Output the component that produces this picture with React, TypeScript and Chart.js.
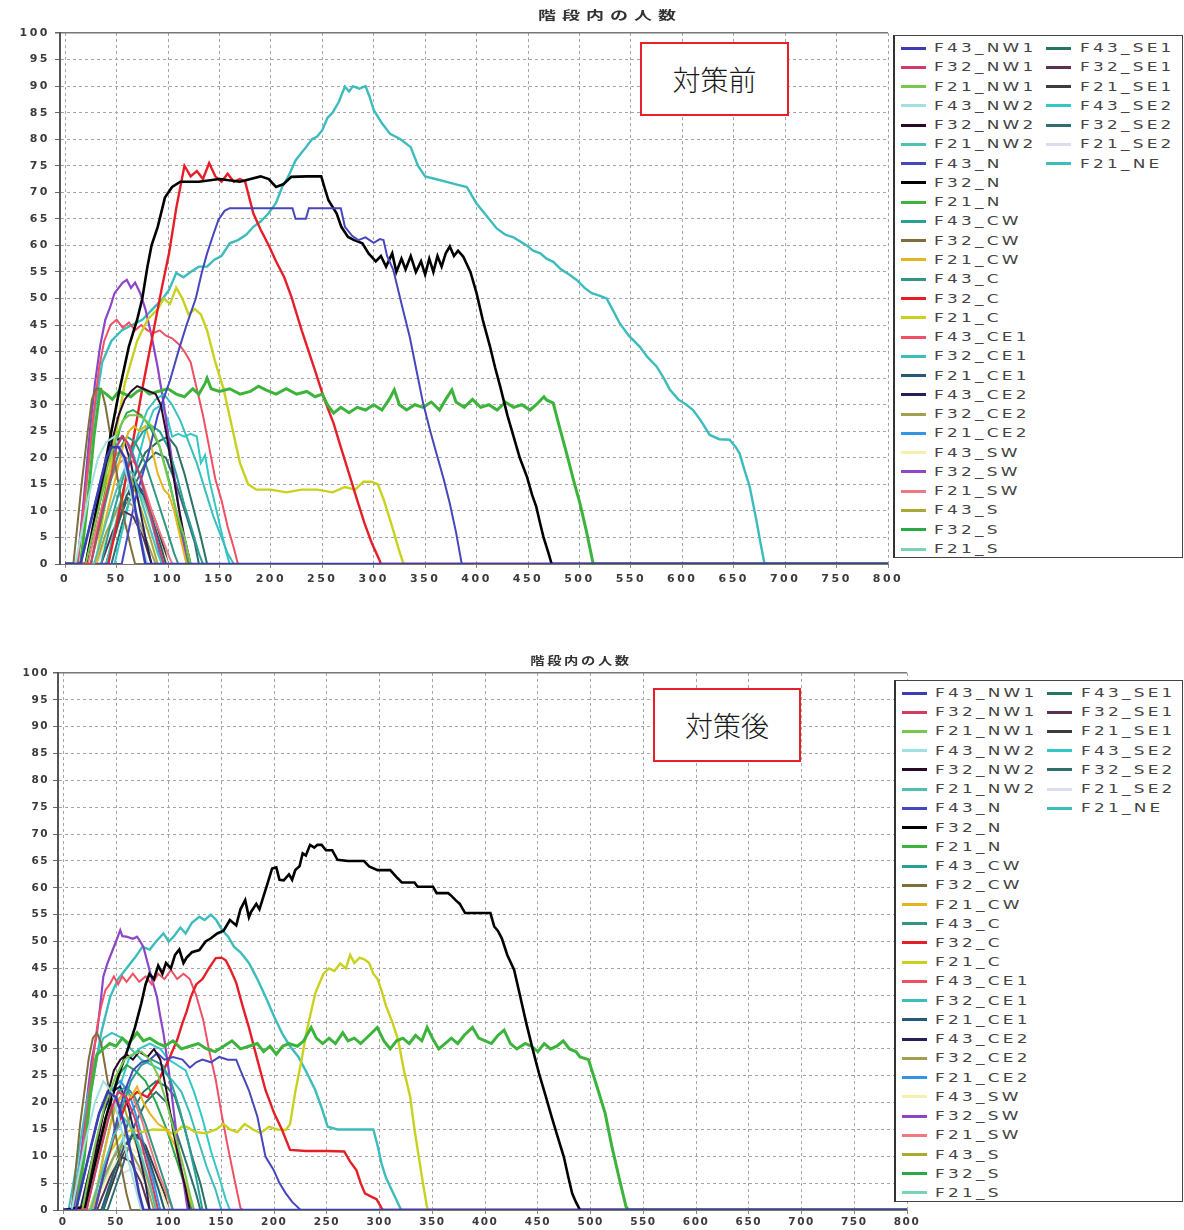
import React, { useEffect, useRef } from "react";
import { Chart, registerables } from "chart.js";

Chart.register(...registerables);

type Pt = [number, number];

// ---- series (legend order: first column 27 items, second column 7 items) ----
const seriesNames = [
  "F43_NW1", "F32_NW1", "F21_NW1", "F43_NW2", "F32_NW2", "F21_NW2",
  "F43_N", "F32_N", "F21_N", "F43_CW", "F32_CW", "F21_CW",
  "F43_C", "F32_C", "F21_C", "F43_CE1", "F32_CE1", "F21_CE1",
  "F43_CE2", "F32_CE2", "F21_CE2", "F43_SW", "F32_SW", "F21_SW",
  "F43_S", "F32_S", "F21_S",
  "F43_SE1", "F32_SE1", "F21_SE1", "F43_SE2", "F32_SE2", "F21_SE2", "F21_NE",
];

const seriesColors = [
  "#3c3cb4", "#d23c64", "#78c850", "#a0e0e0", "#280a28", "#50c0b4",
  "#4646be", "#000000", "#3cb43c", "#28a096", "#7d6e3c", "#e6b41e",
  "#329682", "#e61e28", "#c8d21e", "#f05064", "#3cbebe", "#285a78",
  "#281e5a", "#a0a050", "#3296e6", "#f5f0b0", "#8c46c8", "#f07882",
  "#aaaa32", "#28aa46", "#78d2b4",
  "#287364", "#5a3250", "#3c3c3c", "#32c8c8", "#326e6e", "#dcdcf0", "#3cbcbc",
];

const seriesWeights = [
  2.6, 2, 2, 2, 2, 2,
  2, 2.6, 3, 2, 2, 2,
  2, 2.4, 2.4, 2, 2, 2,
  2, 2, 2, 2, 2.2, 2,
  2, 2, 2,
  2, 2, 2, 2, 2, 2, 2.4,
];

// ---- 対策前 : people in stairs vs time ----
const pre_F43_NW1: Pt[] = [[0,0],[15,0],[30,12],[40,20],[45,22],[52,22],[58,20],[65,14],[72,6],[78,0],[800,0]];
const pre_F32_NW1: Pt[] = [[0,0],[25,0],[36,10],[45,17],[50,22],[55,24],[60,23],[66,20],[74,16],[82,10],[90,4],[96,0],[800,0]];
const pre_F21_NW1: Pt[] = [[0,0],[20,0],[32,10],[42,19],[50,24],[56,27],[62,28],[70,28],[76,27.5],[84,26],[92,22],[100,16],[108,10],[116,5],[122,0],[800,0]];
const pre_F43_NW2: Pt[] = [[0,0],[10,0],[22,12],[32,20],[40,23],[48,24],[55,21],[62,15],[70,8],[76,3],[80,0],[800,0]];
const pre_F32_NW2: Pt[] = [[0,0],[20,0],[32,10],[44,22],[52,28],[58,31],[64,32.5],[70,33.5],[76,33],[82,32.5],[88,32],[93,30],[98,25],[104,18],[110,11],[116,5],[122,0],[800,0]];
const pre_F21_NW2: Pt[] = [[0,0],[28,0],[40,8],[50,14],[58,18],[66,17],[74,12],[82,7],[90,2],[94,0],[800,0]];
const pre_F43_N: Pt[] = [[0,0],[55,0],[68,12],[80,20],[90,28],[102,34.6],[110,40],[118,45],[127,50],[133,55],[138,58.5],[144,62],[149,64.8],[155,66.5],[160,67],[180,67],[200,67],[221,67],[224,65],[234,65],[237,67],[250,67],[268,67],[272,63.5],[279,61.8],[285,61],[292,61.5],[300,60.5],[306,61.2],[309.5,61],[313,58],[319,55.4],[327,49],[335,42.8],[341,37],[348,30.3],[355,25],[361,20.8],[368,16],[374,11.4],[380,6],[385.6,0],[800,0]];
const pre_F32_N: Pt[] = [[0,0],[20,0],[30,10],[40,20],[52,32],[62,41],[70,46],[75,50],[80,56],[84,60],[90,63.5],[97,69],[104,71],[112,72],[130,72],[150,72.5],[170,72],[190,73],[198,72.5],[205,71],[212,71.5],[220,72.9],[235,73],[249,73],[252,71],[256,68.5],[264,66],[268.5,63.5],[275,61.6],[281,61],[289,60.4],[295,58.5],[302,57],[307,58],[312,56],[318,58.5],[322,55],[327,57.5],[331,55.5],[336,58],[341,55],[346,57],[350,54.5],[354,57.5],[358,55],[362,58],[366,56],[370,58.5],[374,59.8],[378,58],[382,59],[387,57.9],[394,55],[400,51],[406,46],[413,41],[418,37],[423,33.4],[430,28],[436,24],[442,20],[449,16.4],[454,13],[458,10.8],[462,7.5],[465,5.1],[470,2],[473,0],[800,0]];
const pre_F21_N: Pt[] = [[0,0],[15,0],[22,12],[28,24],[34,32.8],[40,32],[46,31],[52,32.5],[58,32],[64,31.5],[70,32.5],[76,33],[82,32],[90,32.5],[100,33],[108,32],[116,31.5],[124,33],[130,32],[136,34],[138,35],[142,33],[150,32.5],[160,33],[170,32],[180,32.5],[188,33.5],[195,32.8],[205,32],[215,33],[225,32],[235,32.5],[243,31.5],[250,32],[255,30],[261,28.4],[268,29.5],[276,28.5],[284,29.5],[292,29],[300,30],[308,29],[315,31],[320,32.8],[325,30],[332,29],[340,30],[348,29.5],[356,30.5],[364,29],[370,31],[376,32.8],[380,30.5],[388,29.5],[396,31],[404,29.5],[412,30],[420,29],[428,30.5],[436,29.5],[444,30],[452,29],[458,30],[465.5,31.5],[468,30.9],[474.5,30.3],[481,25.5],[487.6,20.8],[494,16],[500.5,11.4],[507,6],[513.4,0],[800,0]];
const pre_F43_CW: Pt[] = [[0,0],[35,0],[46,9],[56,16],[66,22],[76,25],[84,26],[92,25],[100,22],[108,17],[116,11],[124,6],[130,2],[134,0],[800,0]];
const pre_F32_CW: Pt[] = [[0,0],[8,0],[16,15],[22,25],[26,31],[30,33],[35,33],[39,30],[45,23],[52,15],[58,8],[64,3],[68,0],[800,0]];
const pre_F21_CW: Pt[] = [[0,0],[30,0],[40,9],[50,17],[56,22],[62,25],[67,26],[72,25],[78,26],[84,22],[90,17],[96,14],[101,13],[106,10],[112,5],[118,0],[800,0]];
const pre_F43_C: Pt[] = [[0,0],[25,0],[36,9],[46,17],[54,22],[60,24],[68,23],[78,19],[88,13],[98,7],[106,2],[110,0],[800,0]];
const pre_F32_C: Pt[] = [[0,0],[42,0],[55,12],[65,22],[75,33],[85,43],[94,52],[101,58.5],[108,67],[114,73],[116,75],[122,73],[128,74],[134,72.5],[140,75.5],[146,73],[152,72],[158,73.5],[164,72],[170,72.5],[175,72],[183,66],[190,63],[198,60],[205,57],[213,54],[220,50.3],[230,44],[242,37],[252,31],[261,26.5],[268,22],[276,17],[284,12],[291,7.7],[298,4],[305,1],[307,0],[800,0]];
const pre_F21_C: Pt[] = [[0,0],[30,0],[45,20],[58,34],[70,42],[80,46],[90,48],[96,50],[102,49],[108,52],[114,50],[120,47],[126,48],[132,47],[138,44],[146,38],[154,33],[162,26],[170,19],[178,15],[186,14],[200,14],[215,13.5],[230,14],[245,14],[260,13.5],[272,14.5],[282,14],[290,15.5],[298,15.5],[304,15],[310,12],[318,7],[324,3],[329,0],[800,0]];
const pre_F43_CE1: Pt[] = [[0,0],[12,0],[20,14],[27,27],[33,37],[38,42],[44,45],[50,46],[56,44.5],[62,45.5],[68,44],[74,45],[80,44],[86,43.5],[92,44],[98,43],[104,42.5],[110,41.5],[116,40],[122,38],[128,33],[134,28],[140,22],[146,16],[152,12],[158,7],[164,3],[168,0],[800,0]];
const pre_F32_CE1: Pt[] = [[0,0],[40,0],[52,10],[62,19],[72,25],[80,29],[88,31],[96,32],[104,30],[112,27],[120,23],[128,19],[136,14],[144,9],[152,5],[158,2],[164,0],[800,0]];
const pre_F21_CE1: Pt[] = [[0,0],[40,0],[50,7],[60,13],[68,15],[76,13],[84,9],[92,4],[98,0],[800,0]];
const pre_F43_CE2: Pt[] = [[0,0],[20,0],[30,9],[40,18],[48,23],[56,24],[64,19],[72,11],[78,5],[84,0],[800,0]];
const pre_F32_CE2: Pt[] = [[0,0],[30,0],[40,6],[50,10],[58,12],[66,11],[74,7],[82,3],[88,0],[800,0]];
const pre_F21_CE2: Pt[] = [[0,0],[15,0],[26,9],[36,17],[46,21],[56,24],[64,22],[72,17],[80,11],[88,5],[94,0],[800,0]];
const pre_F43_SW: Pt[] = [[0,0],[30,0],[45,8],[60,13],[75,11],[90,5],[100,0],[800,0]];
const pre_F32_SW: Pt[] = [[0,0],[12,0],[18,12],[24,25],[29,34],[34,41],[39,46],[44,48.5],[48,51],[52,52],[56,53],[60,53.5],[64,52],[68,53],[73,51],[78,48],[84,43],[90,37],[96,30],[102,22],[108,14],[114,6],[118,0],[800,0]];
const pre_F21_SW: Pt[] = [[0,0],[22,0],[32,8],[42,15],[52,19],[60,20],[68,19],[76,15],[86,9],[96,4],[104,0],[800,0]];
const pre_F43_S: Pt[] = [[0,0],[20,0],[30,9],[40,16],[50,21],[58,20],[66,15],[76,9],[84,4],[90,0],[800,0]];
const pre_F32_S: Pt[] = [[0,0],[25,0],[36,11],[46,20],[54,26],[60,28.5],[66,29],[74,28],[82,26],[92,22],[102,15],[110,8],[116,3],[120,0],[800,0]];
const pre_F21_S: Pt[] = [[0,0],[30,0],[42,6],[52,11],[62,15],[72,14],[82,9],[90,4],[96,0],[800,0]];
const pre_F43_SE1: Pt[] = [[0,0],[40,0],[54,9],[66,16],[78,21],[90,23],[100,24],[108,22],[116,17],[124,11],[132,5],[138,0],[800,0]];
const pre_F32_SE1: Pt[] = [[0,0],[35,0],[46,6],[56,10],[66,9],[76,5],[84,0],[800,0]];
const pre_F21_SE1: Pt[] = [[0,0],[40,0],[52,8],[62,13],[70,15],[78,13],[88,8],[96,3],[100,0],[800,0]];
const pre_F43_SE2: Pt[] = [[0,0],[48,0],[60,10],[70,19],[78,25],[86,29],[94,30],[100,27],[104,24],[110,24.5],[116,24],[122,24.5],[128,24],[132,19],[136,20.5],[140,16],[146,11],[152,6],[157,2],[160,0],[800,0]];
const pre_F32_SE2: Pt[] = [[0,0],[45,0],[56,8],[68,15],[78,19],[88,21],[98,20],[108,15],[118,9],[126,4],[130,0],[800,0]];
const pre_F21_SE2: Pt[] = [[0,0],[30,0],[50,6],[70,8],[90,5],[105,0],[800,0]];
const pre_F21_NE: Pt[] = [[0,0],[12,0],[20,14],[28,28],[36,38],[45,42],[55,44],[65,45],[75,46],[85,48],[95,50],[101,51.6],[108,54.8],[115,54],[122,55],[130,56],[138,56],[145,57.3],[152,58],[160,60.4],[168,61],[176,62],[183,63.5],[190,64.5],[197.6,66],[205,68],[211,71],[217,73],[224,76],[230,77.5],[234.6,78.6],[240,80],[245,80.5],[250,81.7],[255,84],[260,85],[266,87],[272,89.9],[276,89],[280,90],[286,89.5],[292,90],[296,88],[300,85.5],[308,83],[316,81],[326,80],[336,78.5],[343,75],[350,73],[360,72.5],[370,72],[380,71.5],[390.5,71],[395,69.5],[400,67.9],[410,65.5],[419.6,63.2],[428,62],[436,61.5],[448.7,60],[455,59],[462,58.5],[468,57.5],[474.6,56.9],[482,55.5],[490,54.5],[497.3,53.5],[505,52],[512,51],[520,50.5],[526.4,50],[532,48],[539.3,45.3],[548,43],[558.7,40.9],[566,39],[575,37.2],[582,35],[588,32.8],[596,31],[604,30],[610.5,29],[618,27],[626.7,24.3],[636,23.5],[646,23.4],[652,22],[655.8,20.8],[660,18],[665.5,14.6],[672,8.3],[676,4],[680,0],[800,0]];

// ---- 対策後 ----
const post_F43_NW1: Pt[] = [[0,0],[12,0],[24,10],[34,18],[42,22],[50,21],[58,16],[66,9],[72,3],[76,0],[800,0]];
const post_F32_NW1: Pt[] = [[0,0],[22,0],[34,10],[44,18],[52,22],[60,21],[68,17],[76,11],[84,5],[90,0],[800,0]];
const post_F21_NW1: Pt[] = [[0,0],[18,0],[30,12],[40,20],[50,25],[58,28],[66,29],[74,29.5],[82,28],[90,25],[98,20],[106,14],[114,8],[120,3],[124,0],[800,0]];
const post_F43_NW2: Pt[] = [[0,0],[8,0],[20,12],[30,20],[38,24],[46,22],[54,16],[62,9],[70,3],[74,0],[800,0]];
const post_F32_NW2: Pt[] = [[0,0],[18,0],[30,10],[40,20],[48,26],[54,28],[60,29],[66,28],[72,29.5],[80,28.5],[86,30],[92,28],[98,22],[104,15],[110,9],[116,4],[120,0],[800,0]];
const post_F21_NW2: Pt[] = [[0,0],[26,0],[38,8],[48,14],[58,17],[66,15],[74,10],[82,5],[88,0],[800,0]];
const post_F43_N: Pt[] = [[0,0],[30,0],[40,8],[50,16],[58,22],[66,26],[74,27.5],[82,28],[89,29.2],[96,28],[104,28.5],[113,28],[120,26.5],[126,27.5],[132,28],[140,27.5],[148,28.5],[156,28],[164,28],[168,26],[176,22.3],[184,17.4],[191.8,9.9],[199.6,7.4],[205,5],[211,3.1],[217,1.5],[223,0.4],[225,0],[800,0]];
const post_F32_N: Pt[] = [[0,0],[20.8,0.6],[28,7],[34.6,12.4],[40,17],[46.4,21],[54,26],[62,30.4],[68,34],[74,38.5],[78,42],[81.7,44],[86,43],[90,45.5],[94,44],[97.4,46],[102,45],[106,47.5],[110,48.5],[114,46],[117,47],[122,48],[129,48.4],[135,50],[140,50.6],[146,51.5],[152,52],[158,54],[164,53],[168,56],[172.5,57.7],[176,54.5],[178,55.5],[183,57],[186,56],[190.8,59],[194,61],[198,63.6],[202,63.8],[205,61.5],[209,61.4],[214,62.5],[217,61.5],[220,63.3],[224,64],[227,66.4],[230,66],[234,68],[238,67.5],[241,68],[245,68],[249,67],[255,67],[260,65.2],[270,65],[285,65],[290,64],[298,63.3],[310,63.3],[316,62],[321,61],[333,61],[336,60.2],[350.6,60.2],[354,59],[365,59],[368,58.5],[372,57.7],[376,57],[381,55.3],[390,55.3],[405,55.3],[408.6,52.8],[412,52],[415.8,50.6],[421,47.5],[427.5,44.7],[433,40],[439,34.8],[445,30],[451,25.5],[457,21.5],[463,17.4],[469,13.5],[474.6,9.9],[479,6],[482.5,3.1],[486,1.5],[490,0],[800,0]];
const post_F21_N: Pt[] = [[0,0],[12,0],[20,10],[26,22],[32,29],[38,30],[44,31],[50,30.5],[56,32],[62,31],[70,33],[76,31.5],[82,32],[90,31],[96,30.5],[104,31.5],[112,30],[120,30.5],[128,31],[136,30],[144,29.5],[152,30.5],[160,31.5],[168,30],[176,30.5],[184,31],[190,29.5],[196,30.5],[202,29],[208,30.5],[214,31],[222,30.5],[228,31.5],[235,34],[240,32],[246,31],[252,32],[258,31],[265,33],[270,31.5],[276,32],[282,31],[290,32.5],[297.7,34],[304,31.5],[310,30],[316,31.5],[322,32],[328,31],[334,32.5],[340,31.5],[345,34],[350,32],[356,30],[362,31],[368,32],[374,31],[380,32.5],[388,34],[394,32],[400,31.5],[406,31],[412,32.5],[418,33.5],[424,31],[430,30],[438,31],[444,30.5],[450,29.5],[456,31],[462,30],[468,30.5],[474,31.5],[480,30],[486,29.5],[490,28.5],[498,28],[506,23],[513.8,18],[520,12],[527,6],[533.6,0.6],[536,0],[800,0]];
const post_F43_CW: Pt[] = [[0,0],[30,0],[42,10],[54,18],[64,24],[74,27],[84,28],[94,27],[102,24],[110,19],[118,13],[126,6],[132,0],[800,0]];
const post_F32_CW: Pt[] = [[0,0],[8,0],[16,16],[24,28],[28,32],[32,33],[36,31],[42,24],[48,16],[54,9],[60,3],[64,0],[800,0]];
const post_F21_CW: Pt[] = [[0,0],[28,0],[38,10],[46,17],[52,20],[58,22],[64,21],[70,23],[76,20],[82,18],[90,16],[98,15],[106,12],[114,6],[120,2],[124,0],[800,0]];
const post_F43_C: Pt[] = [[0,0],[22,0],[34,10],[44,18],[52,22],[60,23],[68,21],[78,16],[88,10],[98,4],[104,0],[800,0]];
const post_F32_C: Pt[] = [[0,0],[30,0],[40,8],[50,15],[60,20],[70,22],[80,21],[90,24],[100,28],[108,31.7],[113,34.8],[117,37],[121,39.7],[126,42],[132,43],[138,45],[144.6,46.9],[150,47],[154,46.5],[158,45],[164,42.3],[170,38],[176,34],[184,28],[191.8,22.3],[200,18],[207.5,14.9],[215,11.2],[230,11],[250,11],[266.4,10.9],[272,9],[278,7.4],[282,5],[286,3.1],[292,2.5],[297,2],[301.7,0.4],[303,0],[800,0]];
const post_F21_C: Pt[] = [[0,0],[25,0],[35,6],[45,11],[55,14],[65,15],[75,14.5],[85,15],[97,14.9],[105,14],[112,15.5],[117,15.5],[125,14.5],[135,14.3],[145,15],[152,16],[158,15],[165,14.5],[172,16],[180,15],[187,14.3],[195,15.5],[203,15],[211,14.9],[215,16],[220,22],[226,28],[231,33.5],[239,40.4],[246.7,44],[252,45],[257,44.5],[262.6,45.9],[268,45],[272,47.5],[276,46],[281,47],[286,46.6],[290,46],[294,44],[298,43],[301.6,41],[306,38],[312,35],[317.5,31.7],[323,26],[329,21],[333,15],[337,10],[341,5],[345,0.4],[347,0],[800,0]];
const post_F43_CE1: Pt[] = [[0,0],[12,0],[20,14],[27,26],[32,34],[36,38],[40,41],[44,42],[48,43.5],[52,42],[56,43.5],[60,42.5],[66,44],[72,42.5],[78,43.5],[84,42],[90,44],[96,43],[102,44.7],[108,43],[114,44],[120,43],[126,40],[132.7,35.4],[138,30],[144.6,24.2],[150,18],[156,11.8],[162,6],[168,0.4],[170,0],[800,0]];
const post_F32_CE1: Pt[] = [[0,0],[5,0],[14,10],[22,20],[30,28],[38,32],[46,33],[56,32],[64,30],[74,28],[84,27],[94,26],[104,24],[112,22],[120,18],[128,13],[136,8],[144,4],[150,0],[800,0]];
const post_F21_CE1: Pt[] = [[0,0],[36,0],[48,7],[58,12],[66,14],[74,13],[82,9],[90,4],[96,0],[800,0]];
const post_F43_CE2: Pt[] = [[0,0],[16,0],[28,10],[38,18],[46,22],[54,23],[62,19],[70,12],[78,5],[82,0],[800,0]];
const post_F32_CE2: Pt[] = [[0,0],[28,0],[38,6],[48,10],[56,12],[64,11],[72,8],[80,4],[86,0],[800,0]];
const post_F21_CE2: Pt[] = [[0,0],[12,0],[24,10],[34,18],[44,22],[54,24],[62,22],[70,17],[78,11],[86,5],[92,0],[800,0]];
const post_F43_SW: Pt[] = [[0,0],[28,0],[44,7],[60,12],[76,10],[90,5],[100,0],[800,0]];
const post_F32_SW: Pt[] = [[0,0],[10,0],[16,8],[22,20],[27,28],[32,33],[35,38],[38,43.5],[42,46],[46,48],[50,50],[54,52.1],[56,51],[60,50.9],[66,50.5],[70,50.9],[73,50],[76,49],[80,46],[84,43],[88.8,39.7],[92,36],[95,32.9],[100,26],[105,18],[110,10],[115,4],[118,0],[800,0]];
const post_F21_SW: Pt[] = [[0,0],[20,0],[30,10],[40,16],[50,20],[58,22],[66,21],[74,17],[82,12],[90,7],[98,3],[104,0],[800,0]];
const post_F43_S: Pt[] = [[0,0],[18,0],[30,9],[40,16],[50,20],[58,19],[66,14],[76,8],[84,3],[88,0],[800,0]];
const post_F32_S: Pt[] = [[0,0],[22,0],[34,12],[44,20],[52,25],[60,27],[68,26],[78,24],[88,20],[98,15],[108,9],[116,4],[122,0],[800,0]];
const post_F21_S: Pt[] = [[0,0],[28,0],[40,6],[50,11],[60,14],[70,13],[80,8],[90,4],[96,0],[800,0]];
const post_F43_SE1: Pt[] = [[0,0],[38,0],[52,10],[64,18],[76,22],[88,24],[98,23],[106,21],[114,16],[122,10],[130,5],[136,0],[800,0]];
const post_F32_SE1: Pt[] = [[0,0],[32,0],[44,6],[54,10],[64,9],[74,5],[82,0],[800,0]];
const post_F21_SE1: Pt[] = [[0,0],[38,0],[52,8],[62,13],[70,14],[78,12],[88,7],[96,3],[100,0],[800,0]];
const post_F43_SE2: Pt[] = [[0,0],[28,0],[40,12],[52,22],[62,28],[72,30],[82,31],[92,30],[100,28],[108,27],[116,26],[124,22],[132,17],[140,11],[148,6],[154,2],[158,0],[800,0]];
const post_F32_SE2: Pt[] = [[0,0],[42,0],[56,8],[68,16],[78,20],[88,22],[98,20],[108,14],[118,8],[126,3],[130,0],[800,0]];
const post_F21_SE2: Pt[] = [[0,0],[28,0],[48,6],[68,8],[88,5],[102,0],[800,0]];
const post_F21_NE: Pt[] = [[0,0],[8,0],[18,12],[28,24],[36,33],[44.5,39.7],[52,43],[60,45],[68,47],[75,49],[82,48.5],[88,50],[95,51.5],[100,50],[105,51],[111,52.6],[116,51.5],[122,53.5],[129,54.6],[134,54],[140,55],[145,54],[150.8,52.1],[156.4,50.9],[162,49],[168,48],[176,46],[184,43],[191.8,39.7],[200,36],[207.5,32.9],[215,30.5],[223,28.5],[231,25.5],[239,22.3],[245,19],[250.7,15.5],[260,15],[270,15],[280,15],[287,15],[294,15],[298,12],[301.7,8.7],[306,6],[312,3.5],[319.4,0.4],[321,0],[800,0]];

const preSeries: Pt[][] = [
  pre_F43_NW1, pre_F32_NW1, pre_F21_NW1, pre_F43_NW2, pre_F32_NW2, pre_F21_NW2,
  pre_F43_N, pre_F32_N, pre_F21_N, pre_F43_CW, pre_F32_CW, pre_F21_CW,
  pre_F43_C, pre_F32_C, pre_F21_C, pre_F43_CE1, pre_F32_CE1, pre_F21_CE1,
  pre_F43_CE2, pre_F32_CE2, pre_F21_CE2, pre_F43_SW, pre_F32_SW, pre_F21_SW,
  pre_F43_S, pre_F32_S, pre_F21_S,
  pre_F43_SE1, pre_F32_SE1, pre_F21_SE1, pre_F43_SE2, pre_F32_SE2, pre_F21_SE2, pre_F21_NE,
];

const postSeries: Pt[][] = [
  post_F43_NW1, post_F32_NW1, post_F21_NW1, post_F43_NW2, post_F32_NW2, post_F21_NW2,
  post_F43_N, post_F32_N, post_F21_N, post_F43_CW, post_F32_CW, post_F21_CW,
  post_F43_C, post_F32_C, post_F21_C, post_F43_CE1, post_F32_CE1, post_F21_CE1,
  post_F43_CE2, post_F32_CE2, post_F21_CE2, post_F43_SW, post_F32_SW, post_F21_SW,
  post_F43_S, post_F32_S, post_F21_S,
  post_F43_SE1, post_F32_SE1, post_F21_SE1, post_F43_SE2, post_F32_SE2, post_F21_SE2, post_F21_NE,
];

const chartTitle = "階段内の人数";
const xRange: Pt = [-5, 800];
const yRange: Pt = [0, 100];
const xStep = 50;
const yStep = 5;

type PanelLayout = {
  top: number;
  width: number;
  height: number;
  padTop: number;
  padRight: number;
  yAxisWidth: number;
  xAxisHeight: number;
  tickSize: number;
  tickSpacing: string;
  yTickPad: number;
  xTickPad: number;
  titleX: number;
  titleY: number;
  titleSize: number;
  titleSpacing: number;
  titleScale: number;
  tag: { left: number; top: number; width: number; height: number };
  legend: { left: number; top: number; width: number; height: number; first: number; pitch: number };
};

const preLayout: PanelLayout = {
  top: 0, width: 920, height: 600, padTop: 33, padRight: 32,
  yAxisWidth: 60, xAxisHeight: 36, tickSize: 11, tickSpacing: "2.5px", yTickPad: 5, xTickPad: 5,
  titleX: 610, titleY: 15, titleSize: 12, titleSpacing: 4, titleScale: 1.5,
  tag: { left: 640, top: 42, width: 149, height: 74 },
  legend: { left: 893, top: 35, width: 290, height: 523, first: 12, pitch: 19.27 },
};

const postLayout: PanelLayout = {
  top: 640, width: 930, height: 590, padTop: 33, padRight: 23,
  yAxisWidth: 58, xAxisHeight: 20, tickSize: 10.5, tickSpacing: "1.5px", yTickPad: 4, xTickPad: 2,
  titleX: 581, titleY: 660, titleSize: 11, titleSpacing: 2, titleScale: 1.3,
  tag: { left: 653, top: 688, width: 148, height: 74 },
  legend: { left: 894, top: 680, width: 289, height: 522, first: 12, pitch: 19.23 },
};

function StairChart({ layout, series }: { layout: PanelLayout; series: Pt[][] }) {
  const ref = useRef<HTMLCanvasElement>(null);
  useEffect(() => {
    const L = layout;
    const gridDash = (ctx: any) => (ctx.tick && ctx.tick.value === 100 ? [] : [3, 3]);
    const tickFont = { family: "'DejaVu Sans', sans-serif", size: L.tickSize, weight: "bold" as const };
    const chart = new Chart(ref.current as HTMLCanvasElement, {
      type: "line",
      data: {
        datasets: seriesNames.map((name, i) => ({
          label: name,
          data: series[i].map(([x, y]) => ({ x, y })),
          borderColor: seriesColors[i],
          backgroundColor: seriesColors[i],
          borderWidth: seriesWeights[i],
          pointRadius: 0,
          tension: 0,
          fill: false,
        })),
      },
      options: {
        responsive: false,
        animation: false,
        events: [],
        layout: { padding: { top: L.padTop, right: L.padRight, left: 0, bottom: 0 } },
        plugins: {
          legend: { display: false },
          title: { display: false },
          tooltip: { enabled: false },
        },
        scales: {
          x: {
            type: "linear",
            min: xRange[0],
            max: xRange[1],
            afterFit: (s: any) => { s.height = L.xAxisHeight; },
            ticks: {
              stepSize: xStep,
              includeBounds: false,
              autoSkip: false,
              maxRotation: 0,
              padding: L.xTickPad,
              color: "#3a3a3a",
              font: tickFont,
            },
            grid: { color: "#a6a6a6", lineWidth: 1, tickLength: 4, tickColor: "#888" },
            border: { display: true, color: "#777", width: 1, dash: [3, 3] },
          },
          y: {
            type: "linear",
            min: yRange[0],
            max: yRange[1],
            afterFit: (s: any) => { s.width = L.yAxisWidth; },
            ticks: {
              stepSize: yStep,
              padding: L.yTickPad,
              color: "#3a3a3a",
              font: tickFont,
            },
            grid: {
              color: (ctx: any) => (ctx.tick && ctx.tick.value === 100 ? "#777" : "#a6a6a6"),
              lineWidth: (ctx: any) => (ctx.tick && ctx.tick.value === 100 ? 1.5 : 1),
              tickLength: 5,
              tickColor: "#666",
            },
            border: { display: true, color: "#555", width: 2, dash: gridDash },
          },
        },
      },
      plugins: [
        {
          id: "tickLetterSpacing",
          beforeDraw(ch: any) {
            ch.ctx.letterSpacing = L.tickSpacing;
          },
        },
      ],
    } as any);
    return () => chart.destroy();
  }, [layout, series]);

  return (
    <canvas
      ref={ref}
      width={layout.width}
      height={layout.height}
      style={{ position: "absolute", left: 0, top: layout.top, width: layout.width, height: layout.height }}
    />
  );
}

function SeriesLegend({ layout }: { layout: PanelLayout }) {
  const g = layout.legend;
  const perColumn = 27;
  return (
    <div
      style={{
        position: "absolute",
        left: g.left,
        top: g.top,
        width: g.width,
        height: g.height,
        boxSizing: "border-box",
        border: "1px solid #444",
        borderLeft: "2px solid #333",
        background: "#fff",
      }}
    >
      {seriesNames.map((name, i) => {
        const col = i < perColumn ? 0 : 1;
        const row = col === 0 ? i : i - perColumn;
        const cy = g.first + row * g.pitch;
        const lineLeft = col === 0 ? 6 : 151;
        const textLeft = col === 0 ? 39 : 185;
        return (
          <React.Fragment key={name}>
            <div
              style={{
                position: "absolute",
                left: lineLeft,
                top: cy - 1.5,
                width: 25,
                height: 3,
                background: seriesColors[i],
              }}
            />
            <div
              style={{
                position: "absolute",
                left: textLeft,
                top: cy - 8,
                height: 16,
                lineHeight: "16px",
                fontFamily: "'DejaVu Sans', sans-serif",
                fontSize: 13,
                letterSpacing: "2.5px",
                color: "#444",
                whiteSpace: "nowrap",
                transform: "scaleX(1.3)",
                transformOrigin: "left center",
              }}
            >
              {name}
            </div>
          </React.Fragment>
        );
      })}
    </div>
  );
}

function Panel({ layout, series, tag }: { layout: PanelLayout; series: Pt[][]; tag: string }) {
  return (
    <>
      <StairChart layout={layout} series={series} />
      <div
        style={{
          position: "absolute",
          left: layout.titleX,
          top: layout.titleY,
          transform: `translate(-50%, -50%) scaleX(${layout.titleScale})`,
          fontFamily: "'Noto Sans CJK JP', sans-serif",
          fontWeight: 700,
          fontSize: layout.titleSize,
          letterSpacing: `${layout.titleSpacing}px`,
          color: "#333",
          whiteSpace: "nowrap",
          lineHeight: 1,
        }}
      >
        {chartTitle}
      </div>
      <div
        style={{
          position: "absolute",
          left: layout.tag.left,
          top: layout.tag.top,
          width: layout.tag.width,
          height: layout.tag.height,
          boxSizing: "border-box",
          border: "2px solid #e8202a",
          background: "#fff",
          display: "flex",
          alignItems: "center",
          justifyContent: "center",
          fontFamily: "'Noto Sans CJK JP', sans-serif",
          fontWeight: 300,
          fontSize: 28,
          color: "#1a1a1a",
        }}
      >
        {tag}
      </div>
      <SeriesLegend layout={layout} />
    </>
  );
}

export default function App() {
  return (
    <div
      style={{
        position: "absolute",
        left: 0,
        top: 0,
        width: 1184,
        height: 1230,
        overflow: "hidden",
        background: "#fff",
      }}
    >
      <Panel layout={preLayout} series={preSeries} tag="対策前" />
      <Panel layout={postLayout} series={postSeries} tag="対策後" />
    </div>
  );
}
